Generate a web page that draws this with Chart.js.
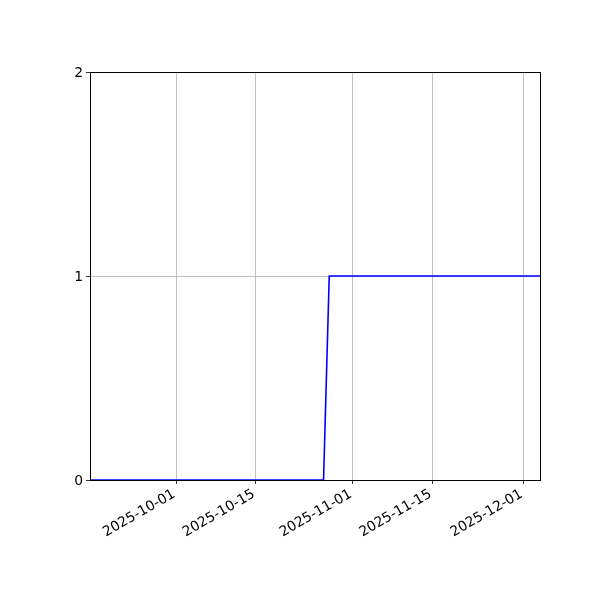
<!DOCTYPE html>
<html>
<head>
<meta charset="utf-8">
<script src="https://cdn.jsdelivr.net/npm/chart.js@4.4.1/dist/chart.umd.min.js"></script>
<style>
html,body{margin:0;padding:0;background:#fff;}
#wrap{width:600px;height:600px;position:relative;}
</style>
</head>
<body>
<div id="wrap"><canvas id="c" width="600" height="600"></canvas></div>
<script>
// Data (timestamps, UTC)
const dates = ['2025-09-15T21:00:00Z', '2025-10-26T21:00:00Z', '2025-10-27T21:00:00Z', '2025-12-03T21:00:00Z'];
const values = [0, 0, 1, 1];
const xTickDates = ['2025-10-01', '2025-10-15', '2025-11-01', '2025-11-15', '2025-12-01'];
const yTicks = [0, 1, 2];
const xMinDate = '2025-09-15T21:00:00Z';
const xMaxDate = '2025-12-03T21:00:00Z';

const toMs = s => new Date(s.length === 10 ? s + 'T00:00:00Z' : s).getTime();
const points = dates.map((d, i) => ({x: toMs(d), y: values[i]}));
const pad2 = n => String(n).padStart(2, '0');
const fmt = v => { const d = new Date(v); return d.getUTCFullYear() + '-' + pad2(d.getUTCMonth() + 1) + '-' + pad2(d.getUTCDate()); };

const frame = {
  id: 'frame',
  afterDraw(chart) {
    const a = chart.chartArea, ctx = chart.ctx;
    ctx.save();
    ctx.strokeStyle = '#000';
    ctx.lineWidth = 1;
    ctx.strokeRect(Math.round(a.left) + 0.5, Math.round(a.top) + 0.5, Math.round(a.right - a.left), Math.round(a.bottom - a.top));
    ctx.restore();
  }
};

const font = {family: 'DejaVu Sans', size: 13.9};
new Chart(document.getElementById('c'), {
  type: 'line',
  data: {
    datasets: [{
      data: points,
      borderColor: '#0000ff',
      borderWidth: 1.6,
      pointRadius: 0,
      tension: 0,
      fill: false
    }]
  },
  options: {
    responsive: false,
    animation: false,
    layout: {padding: {left: 0, right: 60, top: 72, bottom: 0}},
    plugins: {legend: {display: false}, tooltip: {enabled: false}},
    scales: {
      x: {
        type: 'linear',
        min: toMs(xMinDate),
        max: toMs(xMaxDate),
        afterBuildTicks: s => { s.ticks = xTickDates.map(d => ({value: toMs(d)})); },
        afterFit: s => { s.height = 120; },
        grid: {color: '#b0b0b0', lineWidth: 0.8, tickColor: '#000', tickLength: 4, drawOnChartArea: true},
        border: {display: false},
        ticks: {
          callback: v => fmt(v),
          minRotation: 30, maxRotation: 30,
          autoSkip: false,
          labelOffset: -2,
          color: '#000', font: font, padding: 2
        }
      },
      y: {
        type: 'linear',
        min: 0, max: 2,
        afterBuildTicks: s => { s.ticks = yTicks.map(v => ({value: v})); },
        afterFit: s => { s.width = 90; },
        grid: {color: '#b0b0b0', lineWidth: 0.8, tickColor: '#000', tickLength: 4},
        border: {display: false},
        ticks: {color: '#000', font: font, padding: 3, labelOffset: 1}
      }
    }
  },
  plugins: [frame]
});
</script>
</body>
</html>
